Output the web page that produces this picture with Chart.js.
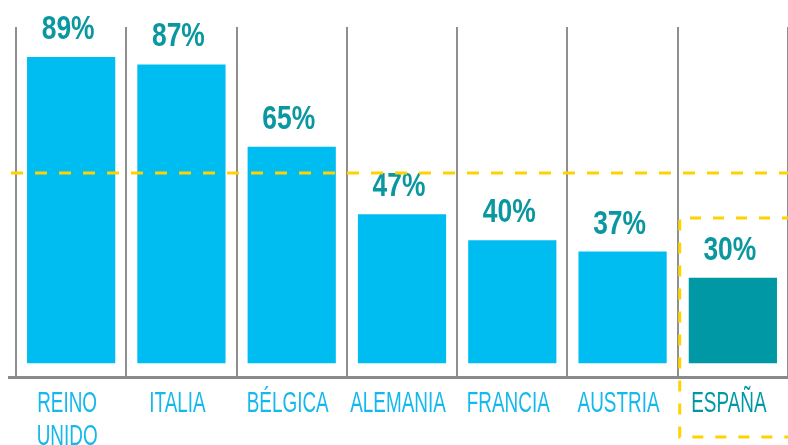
<!DOCTYPE html>
<html>
<head>
<meta charset="utf-8">
<script src="https://cdn.jsdelivr.net/npm/chart.js@4"></script>
<style>
  html, body { margin: 0; padding: 0; background: #ffffff; }
  #wrap { width: 788px; height: 445px; }
</style>
</head>
<body>
<div id="wrap"><canvas id="shareChart"></canvas></div>
<script>
// Data
const countries = [['REINO', 'UNIDO'], 'ITALIA', 'BÉLGICA', 'ALEMANIA', 'FRANCIA', 'AUSTRIA', 'ESPAÑA'];
const shares = [89, 87, 65, 47, 40, 37, 30];
const shareLabels = ['89%', '87%', '65%', '47%', '40%', '37%', '30%'];
const referenceLevel = 58;   // yellow dashed line
const highlightIndex = 6;    // ESPAÑA

const cyan = '#00bdf1';
const teal = '#0098a4';
const tealText = '#0a979f';
const labelCyan = '#14b8ec';
const yellow = '#ffd200';

// draws text squeezed horizontally, to imitate a condensed face
function narrowText(ctx, text, x, y, squeeze) {
  ctx.save();
  ctx.translate(x, y);
  ctx.scale(squeeze, 1);
  ctx.fillText(text, 0, 0);
  ctx.restore();
}

// Draw value labels, category labels, the reference line and the highlight box
const overlayPlugin = {
  id: 'overlay',
  afterDatasetsDraw(chart) {
    const ctx = chart.ctx;
    const area = chart.chartArea;
    const xScale = chart.scales.x;
    const yScale = chart.scales.y;
    const bars = chart.getDatasetMeta(0).data;

    ctx.save();
    ctx.textAlign = 'center';
    ctx.textBaseline = 'alphabetic';

    // value labels above the bars
    ctx.font = 'bold 33px "Liberation Sans", Arial, sans-serif';
    ctx.fillStyle = tealText;
    bars.forEach((bar, i) => {
      narrowText(ctx, shareLabels[i], bar.x - 3, bar.y - 18, 0.8);
    });

    // category labels under the axis
    ctx.font = '30px "Liberation Sans", Arial, sans-serif';
    countries.forEach((name, i) => {
      const lines = Array.isArray(name) ? name : [name];
      ctx.fillStyle = i === highlightIndex ? teal : labelCyan;
      lines.forEach((line, j) => {
        narrowText(ctx, line, xScale.getPixelForValue(i) - 4, area.bottom + 35 + j * 33, 0.63);
      });
    });

    // longer baseline on the left
    ctx.strokeStyle = '#8a8a8a';
    ctx.lineWidth = 3;
    ctx.beginPath();
    ctx.moveTo(8, area.bottom + 0.5);
    ctx.lineTo(area.left, area.bottom + 0.5);
    ctx.stroke();

    // reference line
    const yRef = yScale.getPixelForValue(referenceLevel);
    ctx.strokeStyle = yellow;
    ctx.lineWidth = 3;
    ctx.setLineDash([12, 12]);
    ctx.beginPath();
    ctx.moveTo(11, yRef);
    ctx.lineTo(chart.width, yRef);
    ctx.stroke();

    // dashed box around the highlighted country
    const half = (xScale.getPixelForValue(1) - xScale.getPixelForValue(0)) / 2;
    const boxLeft = xScale.getPixelForValue(highlightIndex) - half + 2;
    const boxTop = yScale.getPixelForValue(46);
    const boxBottom = area.bottom + 60;
    ctx.setLineDash([11, 12]);
    ctx.beginPath();
    ctx.moveTo(chart.width + 5, boxTop);
    ctx.lineTo(boxLeft, boxTop);
    ctx.lineTo(boxLeft, boxBottom);
    ctx.lineTo(chart.width + 5, boxBottom);
    ctx.stroke();
    ctx.restore();
  }
};

const ctx = document.getElementById('shareChart').getContext('2d');

const shareChart = new Chart(ctx, {
  type: 'bar',
  data: {
    labels: countries,
    datasets: [{
      data: shares,
      base: 7.2,
      backgroundColor: shares.map((v, i) => i === highlightIndex ? teal : cyan),
      borderWidth: 0,
      barPercentage: 0.8,
      categoryPercentage: 1,
      clip: 0
    }]
  },
  options: {
    responsive: true,
    maintainAspectRatio: false,
    animation: false,
    layout: {
      padding: { top: 27, left: 16, right: -4, bottom: 68 }
    },
    plugins: {
      legend: { display: false },
      tooltip: { enabled: false }
    },
    scales: {
      x: {
        offset: true,
        grid: {
          offset: true,
          color: '#8f8f8f',
          lineWidth: 2,
          drawTicks: false
        },
        border: { display: true, color: '#8a8a8a', width: 3 },
        ticks: { display: false }
      },
      y: {
        display: false,
        min: 3.5,
        max: 97
      }
    }
  },
  plugins: [overlayPlugin]
});
</script>
</body>
</html>
